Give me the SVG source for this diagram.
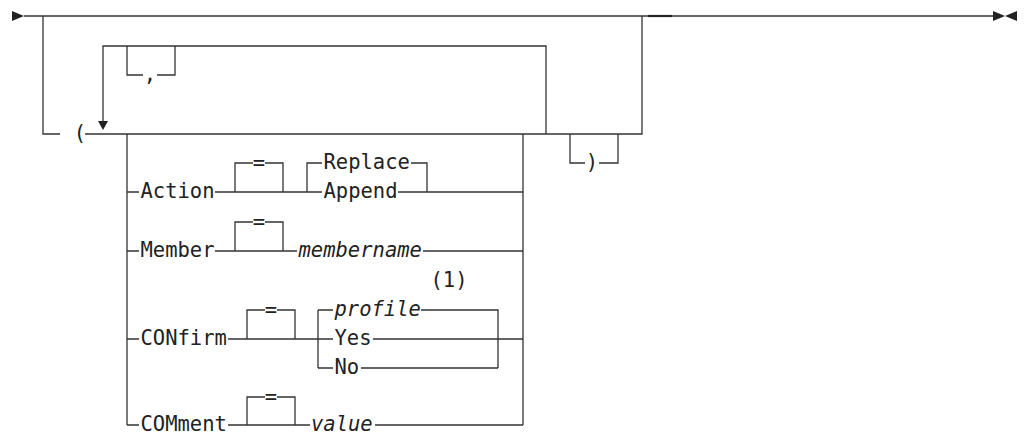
<svg xmlns="http://www.w3.org/2000/svg" width="1024" height="434" viewBox="0 0 1024 434">
<style>
.ln{fill:none;stroke:#333;stroke-width:1.3}
.ar{fill:#222;stroke:none}
.t{font-family:"DejaVu Sans Mono","Liberation Mono",monospace;font-size:20.5px;fill:#222}
.i{font-style:italic}
.m{text-anchor:middle}
</style>
<rect width="1024" height="434" fill="#fff"/>
<g id="connectors">
<path class="ln" d="M24,16 H993"/>
<path d="M648,16 H672" stroke="#222" stroke-width="2.2"/>
<path class="ln" d="M43,16 V134 H60 M85,134 H642 V16"/>
<path class="ln" d="M103,125 V46 H546 V134"/>
<path class="ln" d="M127,46 V75 H143 M157,75 H175 V46"/>
<path class="ln" d="M570,134 V163 H585 M599,163 H618 V134"/>
<path class="ln" d="M127,134 V425 M523,134 V425"/>
<path class="ln" d="M127,192 H139 M215,192 H322 M235,192 V163 H253 M265,163 H283 V192 M307,192 V163 H322 M411,163 H427 V192 M398,192 H523"/>
<path class="ln" d="M127,251 H139 M215,251 H297 M235,251 V222 H253 M265,222 H283 V251 M423,251 H523"/>
<path class="ln" d="M127,339 H139 M228,339 H333 M247,339 V310 H265 M277,310 H295 V339 M318,310 V368 M318,310 H333 M421,310 H498 V368 M318,368 H333 M361,368 H498 M373,339 H523"/>
<path class="ln" d="M127,425 H139 M228,425 H310 M247,425 V397 H265 M277,397 H295 V425 M375,425 H523"/>
<polygon class="ar" points="12,11 12,21 24,16"/>
<polygon class="ar" points="993,11 993,21 1005,16"/>
<polygon class="ar" points="1017,11 1017,21 1005,16"/>
<polygon class="ar" points="98,121 108,121 103,130"/>
</g>
<g id="paren-open"><text class="t m" x="80" y="140">(</text></g>
<g id="comma"><text class="t m" x="150" y="81">,</text></g>
<g id="paren-close"><text class="t m" x="592" y="169">)</text></g>
<g id="action">
<text class="t" x="140.5" y="198">Action</text>
<text class="t m" x="259" y="170">=</text>
<text class="t" x="323.5" y="169">Replace</text>
<text class="t" x="323.5" y="198">Append</text>
</g>
<g id="member">
<text class="t" x="140.5" y="257">Member</text>
<text class="t m" x="259" y="229">=</text>
<text class="t i" x="298.5" y="257">membername</text>
</g>
<g id="confirm">
<text class="t" x="140.5" y="345">CONfirm</text>
<text class="t m" x="271" y="317">=</text>
<text class="t i" x="334.5" y="316">profile</text>
<text class="t" x="334.5" y="345">Yes</text>
<text class="t" x="334.5" y="374">No</text>
<text class="t" x="430.5" y="287">(1)</text>
</g>
<g id="comment">
<text class="t" x="140.5" y="431">COMment</text>
<text class="t m" x="271" y="404">=</text>
<text class="t i" x="311" y="431">value</text>
</g>
</svg>
